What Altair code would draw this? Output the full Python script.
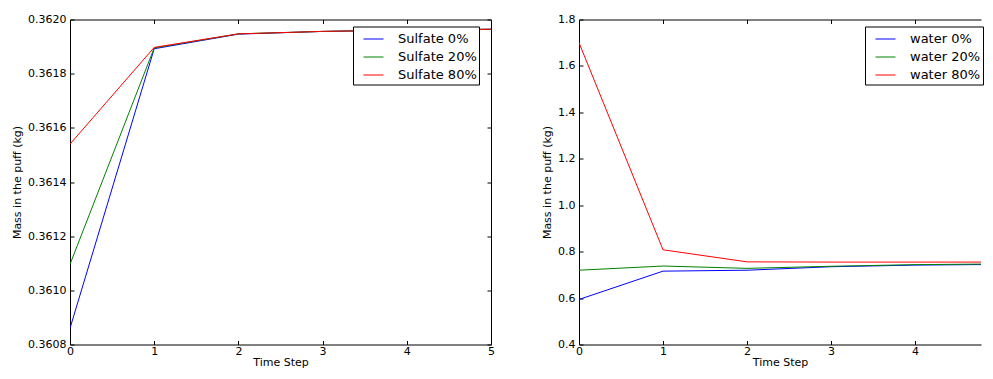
import altair as alt
import pandas as pd

# ---- data ----
steps = [0, 1, 2, 3, 4, 5]

sulfate_names = ["Sulfate 0%", "Sulfate 20%", "Sulfate 80%"]
sulfate_0 = [0.360860, 0.361892, 0.361946, 0.361956, 0.361961, 0.361964]
sulfate_20 = [0.361096, 0.361895, 0.361947, 0.361956, 0.361961, 0.361964]
sulfate_80 = [0.361540, 0.361897, 0.361947, 0.361956, 0.361961, 0.361964]

water_names = ["water 0%", "water 20%", "water 80%"]
water_0 = [0.594, 0.716, 0.720, 0.735, 0.742, 0.745]
water_20 = [0.720, 0.738, 0.728, 0.737, 0.744, 0.747]
water_80 = [1.700, 0.808, 0.756, 0.755, 0.755, 0.755]

sulfate_yticks = [0.3608, 0.3610, 0.3612, 0.3614, 0.3616, 0.3618, 0.3620]
water_yticks = [0.4, 0.6, 0.8, 1.0, 1.2, 1.4, 1.6, 1.8]
sulfate_xticks = [0, 1, 2, 3, 4, 5]
water_xticks = [0, 1, 2, 3, 4]

colors = ["#0000ff", "#008000", "#ff0000"]
FONT = "DejaVu Sans"


def long_df(names, series):
    rows = []
    for n, vals in zip(names, series):
        for s, v in zip(steps, vals):
            rows.append({"step": s, "mass": v, "series": n})
    return pd.DataFrame(rows)


def panel(df, names, xmax, xticks, ydom, yticks, yfmt, W, H, legend_x, right_border):
    xs = alt.Scale(domain=[0, xmax], nice=False, zero=False)
    ys = alt.Scale(domain=ydom, nice=False, zero=False)
    color = alt.Color(
        "series:N",
        scale=alt.Scale(domain=names, range=colors),
        sort=names,
        legend=alt.Legend(
            title=None, orient="none", legendX=legend_x, legendY=7,
            symbolType="stroke", symbolSize=400, symbolStrokeWidth=1,
            labelFontSize=13, labelFont=FONT, labelColor="black",
            labelOffset=14, symbolOffset=8, padding=2, rowPadding=0,
            strokeColor="black", fillColor="white", cornerRadius=0,
        ),
    )
    main = alt.Chart(df).mark_line(strokeWidth=1, clip=True).encode(
        x=alt.X("step:Q", scale=xs, axis=alt.Axis(
            orient="bottom", values=xticks, format="d", ticks=False,
            labelPadding=1, title="Time Step", titlePadding=0, grid=False,
            labelFlush=False, labelOverlap=False)),
        y=alt.Y("mass:Q", scale=ys, axis=alt.Axis(
            orient="left", values=yticks, format=yfmt, ticks=False,
            labelPadding=4, title="Mass in the puff (kg)", titlePadding=5,
            grid=False, labelFlush=False, labelOverlap=False)),
        color=color,
    )
    ticks_a = alt.Chart(df).mark_line(opacity=0, clip=True).encode(
        x=alt.X("step:Q", scale=xs, axis=alt.Axis(
            orient="bottom", offset=-H, values=xticks, labels=False,
            title=None, tickSize=4, grid=False, domain=True)),
        y=alt.Y("mass:Q", scale=ys, axis=alt.Axis(
            orient="right", offset=-W, values=yticks, labels=False,
            title=None, tickSize=4, grid=False, domain=False)),
        detail="series:N",
    )
    if right_border:
        yb = alt.Axis(orient="left", offset=-W, values=yticks, labels=False,
                      title=None, tickSize=4, grid=False, domain=True)
    else:
        yb = None
    ticks_b = alt.Chart(df).mark_line(opacity=0, clip=True).encode(
        x=alt.X("step:Q", scale=xs, axis=alt.Axis(
            orient="top", offset=-H, values=xticks, labels=False,
            title=None, tickSize=4, grid=False, domain=False)),
        y=alt.Y("mass:Q", scale=ys, axis=yb),
        detail="series:N",
    )
    return alt.layer(main, ticks_a, ticks_b).resolve_axis(
        x="independent", y="independent"
    ).properties(width=W, height=H)


H = 325
WR = 402
left = panel(long_df(sulfate_names, [sulfate_0, sulfate_20, sulfate_80]),
             sulfate_names, 5, sulfate_xticks, [0.3608, 0.3620],
             sulfate_yticks, ".4f", 421, H, 283, True)
right = panel(long_df(water_names, [water_0, water_20, water_80]),
              water_names, WR / 84.0, water_xticks, [0.4, 1.8],
              water_yticks, ".1f", WR, H, 286, False)

chart = alt.hconcat(left, right, spacing=46).resolve_scale(
    color="independent"
).properties(
    padding={"left": 3, "top": 5.5, "right": 0, "bottom": 0},
    background="white",
).configure_view(stroke=None).configure_axis(
    labelFont=FONT, titleFont=FONT, labelFontSize=11, titleFontSize=11,
    labelColor="black", titleColor="black", titleFontWeight="normal",
    domainColor="black", tickColor="black", domainWidth=1, grid=False,
)

chart.save("out.html", embed_options={"renderer": "svg", "actions": False})
